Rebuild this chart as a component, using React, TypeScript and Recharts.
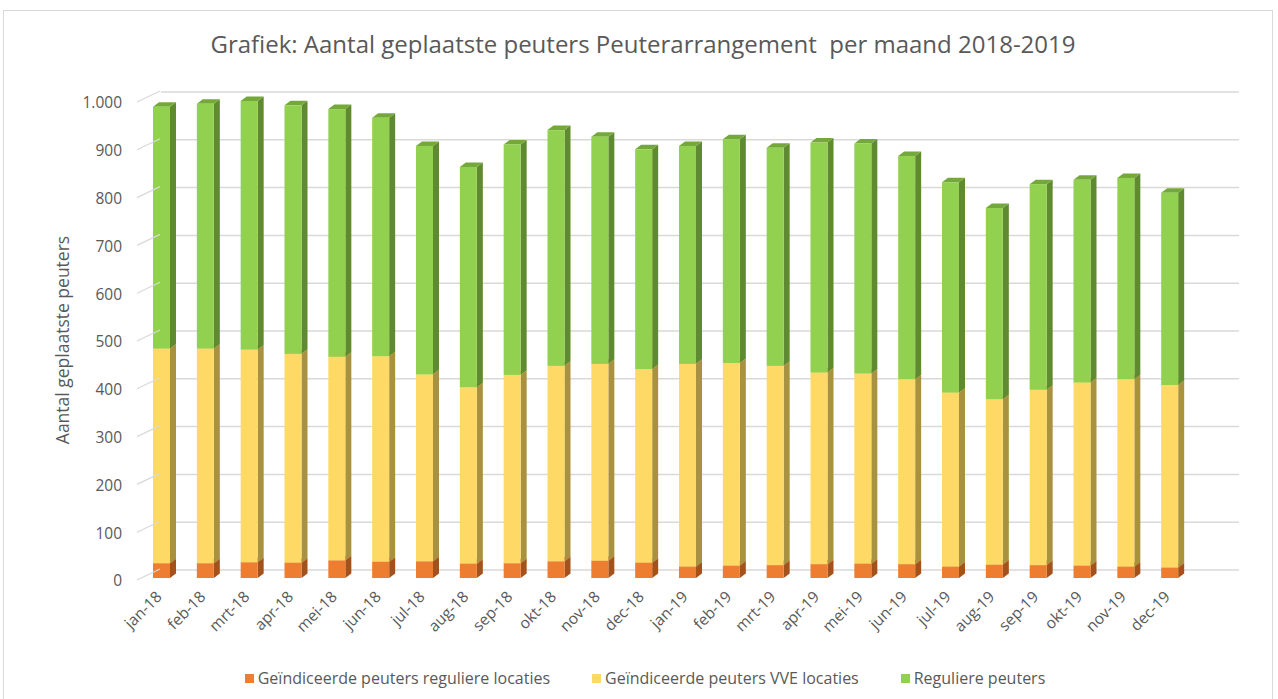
import React from "react";
import { BarChart, Bar, XAxis, YAxis, CartesianGrid } from "recharts";

const months = [
  "jan-18", "feb-18", "mrt-18", "apr-18", "mei-18", "jun-18",
  "jul-18", "aug-18", "sep-18", "okt-18", "nov-18", "dec-18",
  "jan-19", "feb-19", "mrt-19", "apr-19", "mei-19", "jun-19",
  "jul-19", "aug-19", "sep-19", "okt-19", "nov-19", "dec-19",
];

// Geïndiceerde peuters reguliere locaties
const gereguliere = [31, 31, 33, 32, 37, 34, 35, 30, 31, 35, 36, 32, 24, 26, 27, 29, 30, 29, 24, 28, 27, 26, 24, 22];
// Geïndiceerde peuters VVE locaties
const vve = [449, 449, 445, 437, 426, 430, 391, 369, 394, 409, 412, 405, 424, 424, 417, 401, 398, 387, 364, 346, 367, 383, 392, 382];
// Reguliere peuters
const regulier = [506, 512, 520, 520, 518, 499, 478, 461, 482, 493, 475, 460, 456, 468, 456, 481, 481, 467, 440, 400, 430, 424, 421, 402];

const yTicks = [0, 100, 200, 300, 400, 500, 600, 700, 800, 900, 1000];

const series = [
  { key: "gereguliere", name: "Geïndiceerde peuters reguliere locaties", front: "#ED7D31", side: "#A4521C", top: "#C5662A" },
  { key: "vve", name: "Geïndiceerde peuters VVE locaties", front: "#FFD966", side: "#A8913F", top: "#D9B852" },
  { key: "regulier", name: "Reguliere peuters", front: "#92D050", side: "#5F8A30", top: "#74A83A" },
];

const data = months.map((m, i) => ({
  month: m,
  gereguliere: gereguliere[i],
  vve: vve[i],
  regulier: regulier[i],
}));

const W = 1278;
const H = 699;
const PLOT_LEFT = 140;
const DX = 6;
const DY = 4.5;
const TEXT = "#595959";
const FONT = "'Open Sans', sans-serif";

function Bar3D(props: any) {
  const { x, y, width, height, front, side, top } = props;
  if (height == null || width == null) return null;
  return (
    <g>
      <polygon
        points={`${x + width},${y} ${x + width + DX},${y - DY} ${x + width + DX},${y + height - DY} ${x + width},${y + height}`}
        fill={side}
      />
      <polygon
        points={`${x},${y} ${x + DX},${y - DY} ${x + width + DX},${y - DY} ${x + width},${y}`}
        fill={top}
      />
      <rect x={x} y={y} width={width} height={height} fill={front} />
    </g>
  );
}

function YTick(props: any) {
  const { y, payload } = props;
  const label = payload.value >= 1000 ? "1.000" : String(payload.value);
  return (
    <g>
      <line x1={PLOT_LEFT - 3} y1={y + 2} x2={PLOT_LEFT + 20} y2={y - 9} stroke="#d9d9d9" strokeWidth={1.2} />
      <text x={PLOT_LEFT - 18} y={y + 3} dy="0.35em" textAnchor="end" fill={TEXT} fontSize={15.5} fontFamily={FONT}>
        {label}
      </text>
    </g>
  );
}

function XTick(props: any) {
  const { x, y, payload } = props;
  const tx = x - 3;
  const ty = y + 8;
  return (
    <text
      x={tx}
      y={ty}
      dy="0.35em"
      textAnchor="end"
      transform={`rotate(-45 ${tx} ${ty})`}
      fill={TEXT}
      fontSize={15.5}
      fontFamily={FONT}
    >
      {payload.value}
    </text>
  );
}

function GridLine(props: any) {
  const { x1, y1, x2, y2 } = props;
  return <line x1={x1 + 21} y1={y1 - 8} x2={x2 + 47} y2={y2 - 8} stroke="#d9d9d9" strokeWidth={1.5} />;
}

export default function App() {
  return (
    <div style={{ position: "absolute", left: 0, top: 0, width: W, height: H, background: "#fff", overflow: "hidden", fontFamily: FONT }}>
      <div style={{ position: "absolute", left: 3, top: 10, width: 1268, height: 700, border: "1px solid #d9d9d9" }} />
      <div
        style={{
          position: "absolute",
          left: 0,
          top: 27,
          width: 1286,
          textAlign: "center",
          fontSize: 24,
          color: TEXT,
          whiteSpace: "pre",
        }}
      >
        {"Grafiek: Aantal geplaatste peuters Peuterarrangement  per maand 2018-2019"}
      </div>
      <div
        style={{
          position: "absolute",
          left: 62,
          top: 340,
          transform: "translate(-50%, -50%) rotate(-90deg)",
          fontSize: 17.5,
          color: TEXT,
          whiteSpace: "nowrap",
        }}
      >
        Aantal geplaatste peuters
      </div>
      <div style={{ position: "absolute", left: 0, top: 0 }}>
        <BarChart width={W} height={H} data={data} margin={{ top: 100, right: 86, bottom: 61, left: 0 }} barSize={17}>
          <CartesianGrid vertical={false} horizontal={(p: any) => <GridLine key={p.key} {...p} />} />
          <XAxis dataKey="month" axisLine={false} tickLine={false} interval={0} height={60} tick={<XTick />} />
          <YAxis
            domain={[0, 1000]}
            ticks={yTicks}
            axisLine={false}
            tickLine={false}
            width={PLOT_LEFT}
            tick={<YTick />}
            interval={0}
          />
          {series.map((s) => (
            <Bar
              key={s.key}
              dataKey={s.key}
              name={s.name}
              stackId="a"
              fill={s.front}
              isAnimationActive={false}
              shape={(p: any) => <Bar3D {...p} front={s.front} side={s.side} top={s.top} />}
            />
          ))}
        </BarChart>
      </div>
      <div
        style={{
          position: "absolute",
          left: 0,
          top: 667,
          width: 1290,
          display: "flex",
          justifyContent: "center",
          gap: 42,
          fontSize: 16,
          color: TEXT,
        }}
      >
        {series.map((s) => (
          <div key={s.key} style={{ display: "flex", alignItems: "center" }}>
            <span style={{ display: "inline-block", width: 9, height: 9, background: s.front, marginRight: 4 }} />
            <span>{s.name}</span>
          </div>
        ))}
      </div>
    </div>
  );
}
